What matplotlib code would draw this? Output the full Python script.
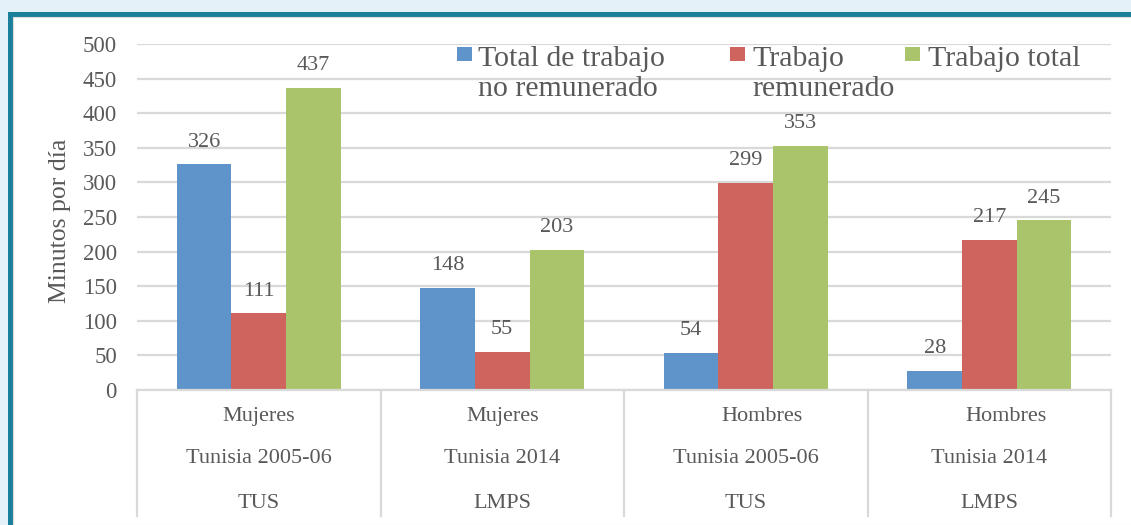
import matplotlib.pyplot as plt
from matplotlib.patches import Rectangle
import numpy as np

# data
sexo = ['Mujeres', 'Mujeres', 'Hombres', 'Hombres']
encuesta = ['Tunisia 2005-06', 'Tunisia 2014', 'Tunisia 2005-06', 'Tunisia 2014']
fuente = ['TUS', 'LMPS', 'TUS', 'LMPS']
series = ['Total de trabajo\nno remunerado', 'Trabajo\nremunerado', 'Trabajo total']
no_remunerado = [326, 148, 54, 28]
remunerado = [111, 55, 299, 217]
total = [437, 203, 353, 245]

colors = ['#5f94cb', '#cf635d', '#a9c46a']
txt = '#595959'
grid_c = '#d9d9d9'

plt.rcParams['font.family'] = ['Liberation Serif', 'DejaVu Serif']

W, H = 1131, 525
fig = plt.figure(figsize=(W / 100, H / 100), dpi=100)
fig.patch.set_facecolor('#e4f1f9')

# frame: teal border, white panel
fig.patches.append(Rectangle((8 / W, 0), 1, 1 - 12 / H, transform=fig.transFigure,
                             facecolor='#1a7f9b', edgecolor='none', zorder=-3))
fig.patches.append(Rectangle((13 / W, 0), 1, 1 - 17 / H, transform=fig.transFigure,
                             facecolor='white', edgecolor='#dddddd', lw=0.8,
                             zorder=-2))

x0, x1, ytop, ybot = 137, 1111, 44, 390
ax = fig.add_axes([x0 / W, 1 - ybot / H, (x1 - x0) / W, (ybot - ytop) / H])
ax.set_facecolor('none')

x = np.arange(len(sexo))
w = 0.224
vals = [no_remunerado, remunerado, total]
for i, (v, c) in enumerate(zip(vals, colors)):
    bars = ax.bar(x + (i - 1) * w, v, w, color=c, zorder=2)
    for b, val in zip(bars, v):
        ax.annotate(str(val), (b.get_x() + b.get_width() / 2, val),
                    xytext=(0, 12.7), textcoords='offset points',
                    ha='center', va='baseline', fontsize=16, color=txt)

ax.set_xlim(-0.5, len(sexo) - 0.5)
ax.set_ylim(0, 500)
ax.set_yticks(np.arange(0, 501, 50))
ax.yaxis.grid(True, color=grid_c, lw=1.6)
ax.set_axisbelow(True)
ax.tick_params(axis='y', length=0, pad=14.5, labelsize=16.5, labelcolor=txt)
ax.set_xticks([])
for s in ['top', 'right', 'left']:
    ax.spines[s].set_visible(False)
ax.spines['bottom'].set_color(grid_c)
ax.spines['bottom'].set_linewidth(1.6)
ax.set_ylabel('Minutos por día', fontsize=18.5, color=txt)
ax.yaxis.set_label_coords(-0.068, 0.49)

# multi-level category table below the axis
tr = ax.get_xaxis_transform()
for b in np.arange(len(sexo) + 1) - 0.5:
    ax.plot([b, b], [0, -0.364], transform=tr, color=grid_c, lw=1.6,
            clip_on=False)
rows = [(sexo, -0.078), (encuesta, -0.199), (fuente, -0.327)]
for labels, yy in rows:
    for xi, lab in zip(x, labels):
        dx = 12 if lab == 'Hombres' else 0
        ax.annotate(lab, (xi, yy), xycoords=tr, xytext=(dx, 0),
                    textcoords='offset points', ha='center', va='center',
                    fontsize=16, color=txt, annotation_clip=False)

# legend drawn by hand, handles aligned with first line of each label
leg_pos = [(457, 478), (730, 752), (905, 928)]
for (sx, tx), lab, c in zip(leg_pos, series, colors):
    fig.patches.append(Rectangle((sx / W, 1 - 61 / H), 15 / W, 14 / H,
                                 transform=fig.transFigure, facecolor=c,
                                 edgecolor='none', zorder=3))
    for k, line in enumerate(lab.split('\n')):
        fig.text(tx / W, 1 - (66.5 + 29 * k) / H, line, fontsize=21.5,
                 color=txt, ha='left', va='baseline', zorder=3)

fig.savefig('out.png', dpi=100, facecolor=fig.get_facecolor())
